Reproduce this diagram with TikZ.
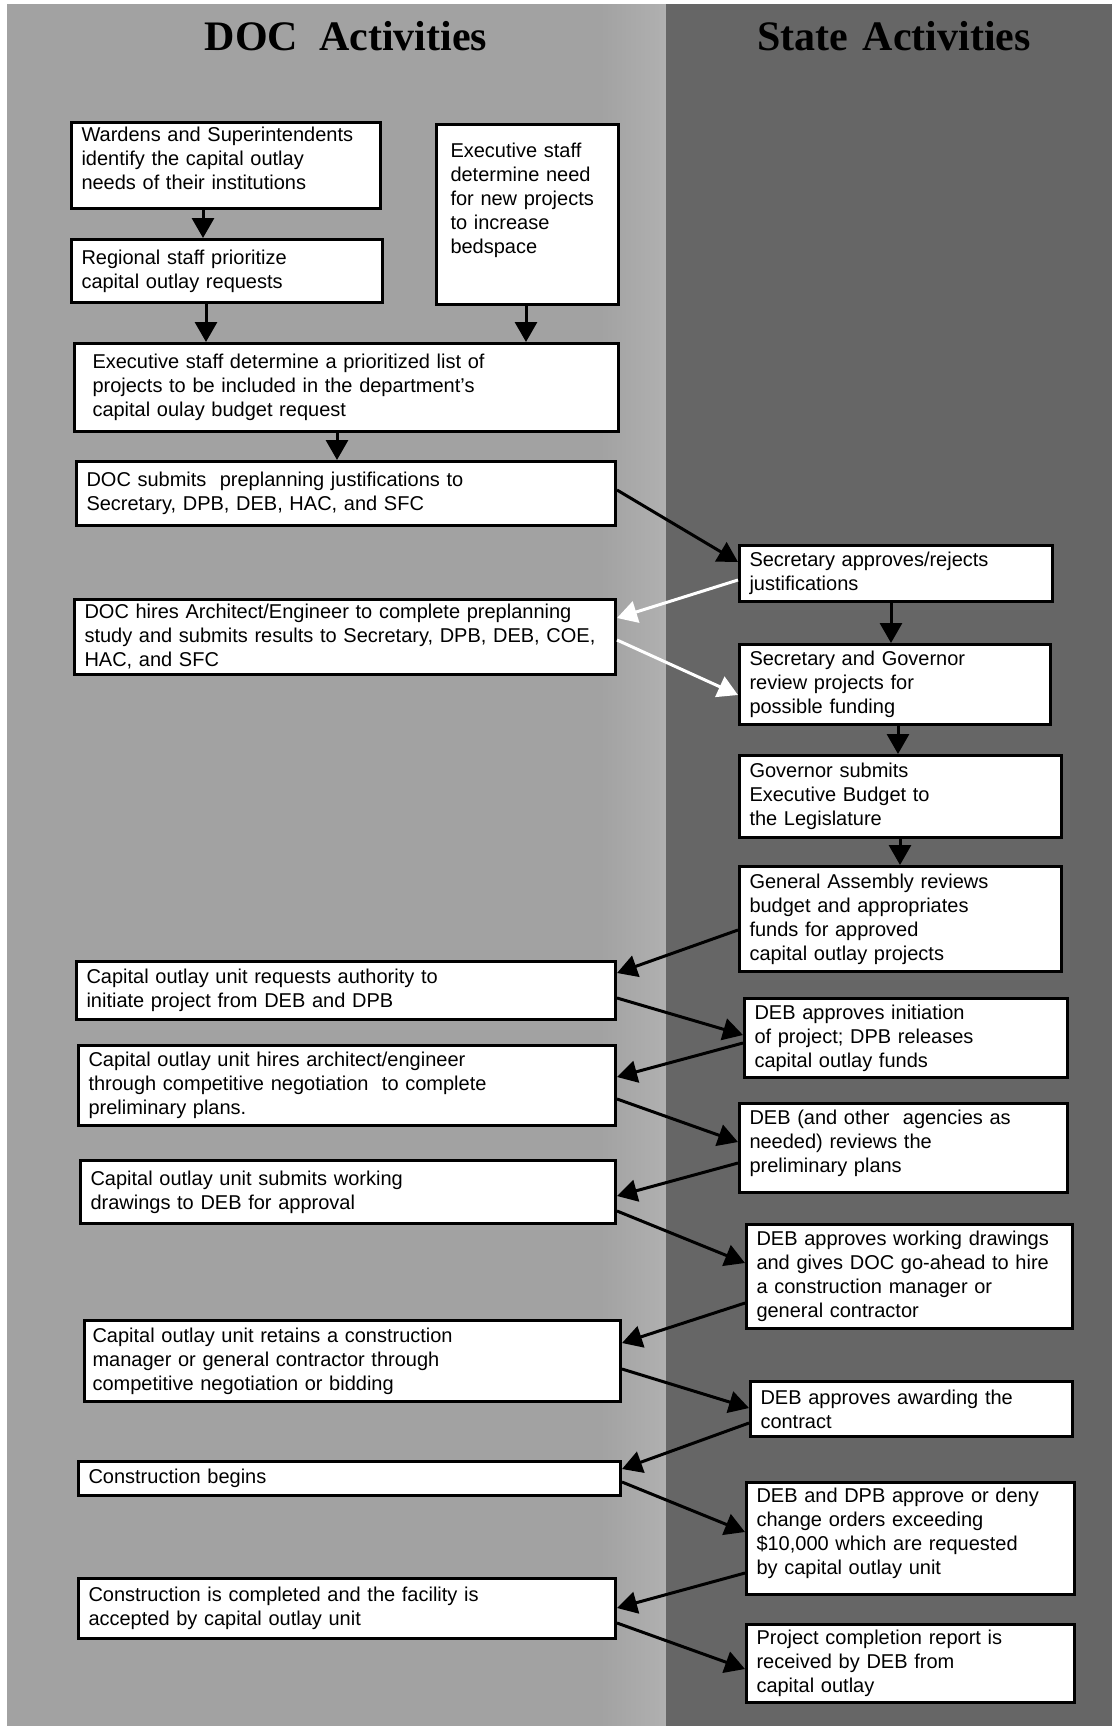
\documentclass[tikz,border=0pt]{standalone}
\usepackage{fontspec}
\setmainfont{Liberation Sans}
\newfontfamily\titlefont{Liberation Serif}
\usetikzlibrary{arrows.meta,calc}
\definecolor{leftbg}{HTML}{A2A2A2}
\definecolor{leftbgl}{HTML}{B0B0B0}
\definecolor{rightbg}{HTML}{666666}
\newcommand{\dn}{\rule[-7pt]{0pt}{7pt}}
\begin{document}
\begin{tikzpicture}[x=0.5pt,y=-0.5pt,
  box/.style={draw=black, line width=1.5pt, fill=white, align=left, anchor=north west,
              inner xsep=5pt, inner ysep=0pt, font=\fontsize{10}{12}\selectfont},
  arr/.style={line width=1.5pt, -{Triangle[length=10pt,width=11pt]}},
  warr/.style={arr, white},
  ttl/.style={anchor=base, font=\titlefont\bfseries\fontsize{21}{25}\selectfont}]
\useasboundingbox (0,0) rectangle (1112,1726);
\fill[white] (0,0) rectangle (1112,1726);
\fill[leftbg] (7,4) rectangle (600,1726);
\shade[left color=leftbg, right color=leftbgl] (600,4) rectangle (666,1726);
\fill[rightbg] (666,4) rectangle (1112,1726);

\node[ttl] (t1) at (346,50) {DOC\hspace{0.5em}Activities};
\node[ttl] (t2) at (894,50) {State\hspace{0.35em}Activities};

% DOC column
\node[box, minimum height=43pt, text width=144.5pt] (b1) at (70,121)
  {Wardens and Superintendents\\identify the capital outlay\\needs of their institutions\dn};
\node[box, minimum height=90pt, inner xsep=7pt, text width=77pt] (b2) at (435,123)
  {Executive staff\\determine need\\for new projects\\to increase\\bedspace\\[4pt]\mbox{}};
\node[box, minimum height=31.5pt, text width=145.5pt] (b3) at (70,238)
  {Regional staff prioritize\\capital outlay requests};
\node[box, minimum height=44pt, inner xsep=9pt, text width=254pt] (b4) at (73,342)
  {Executive staff determine a prioritized list of\\projects to be included in the department's\\capital oulay budget request};
\node[box, minimum height=32pt, text width=259.5pt] (b5) at (75,460)
  {DOC submits\ \ preplanning justifications to\\Secretary, DPB, DEB, HAC, and SFC};
\node[box, minimum height=37.5pt, text width=260.5pt] (b6) at (73,598)
  {DOC hires Architect/Engineer to complete preplanning\\study and submits results to Secretary, DPB, DEB, COE,\\HAC, and SFC};
\node[box, minimum height=29pt, text width=259.5pt] (l7) at (75,960)
  {Capital outlay unit requests authority to\\initiate project from DEB and DPB};
\node[box, minimum height=40pt, text width=258.5pt] (l8) at (77,1044)
  {Capital outlay unit hires architect/engineer\\through competitive negotiation\ \ to complete\\preliminary plans.};
\node[box, minimum height=31.5pt, text width=257.5pt] (l9) at (79,1159)
  {Capital outlay unit submits working\\drawings to DEB for approval};
\node[box, minimum height=40.5pt, inner xsep=4pt, text width=260pt] (l10) at (83,1319)
  {Capital outlay unit retains a construction\\manager or general contractor through\\competitive negotiation or bidding};
\node[box, minimum height=17pt, text width=261pt] (l11) at (77,1460)
  {Construction begins};
\node[box, minimum height=30pt, text width=258.5pt] (l12) at (77,1577)
  {Construction is completed and the facility is\\accepted by capital outlay unit};

% State column
\node[box, minimum height=28pt, text width=146.5pt] (r1) at (738,544)
  {Secretary approves/rejects\\justifications};
\node[box, minimum height=40pt, text width=145.5pt] (r2) at (738,643)
  {Secretary and Governor\\review projects for\\possible funding};
\node[box, minimum height=41pt, text width=151pt] (r3) at (738,754)
  {Governor submits\\Executive Budget to\\the Legislature};
\node[box, minimum height=52.5pt, text width=151pt] (r4) at (738,865)
  {General Assembly reviews\\budget and appropriates\\funds for approved\\capital outlay projects};
\node[box, minimum height=39.5pt, text width=151.5pt] (r5) at (743,997)
  {DEB approves initiation\\of project; DPB releases\\capital outlay funds};
\node[box, minimum height=44.5pt, text width=154pt] (r6) at (738,1102)
  {DEB (and other\ \ agencies as\\needed) reviews the\\preliminary plans\dn};
\node[box, minimum height=52pt, text width=153pt] (r7) at (745,1223)
  {DEB approves working drawings\\and gives DOC go-ahead to hire\\a construction manager or\\general contractor};
\node[box, minimum height=27.5pt, text width=151pt] (r8) at (749,1380)
  {DEB approves awarding the\\contract};
\node[box, minimum height=56pt, text width=154pt] (r9) at (745,1481)
  {DEB and DPB approve or deny\\change orders exceeding\\\$10,000 which are requested\\by capital outlay unit\dn};
\node[box, minimum height=39pt, text width=154pt] (r10) at (745,1623)
  {Project completion report is\\received by DEB from\\capital outlay};

% vertical arrows
\draw[arr] ($(b1.south west)+(133,0)$) -- ($(b3.north west)+(133,0)$);
\draw[arr] ($(b3.south west)+(136,0)$) -- ($(b4.north west)+(133,0)$);
\draw[arr] ($(b2.south west)+(91,0)$) -- ($(b4.north west)+(453,0)$);
\draw[arr] ($(b4.south west)+(264,0)$) -- ($(b5.north west)+(262,0)$);
\draw[arr] ($(r1.south west)+(153,0)$) -- ($(r2.north west)+(153,0)$);
\draw[arr] ($(r2.south west)+(160,0)$) -- ($(r3.north west)+(160,0)$);
\draw[arr] ($(r3.south west)+(162,0)$) -- ($(r4.north west)+(162,0)$);

% cross arrows
\draw[arr]  ($(b5.north east)+(0,30)$) -- ($(r1.north west)+(0,18)$);
\draw[warr] ($(r1.north west)+(0,36)$) -- ($(b6.north east)+(0,20)$);
\draw[warr] ($(b6.north east)+(0,42)$) -- ($(r2.north west)+(0,52)$);
\draw[arr]  ($(r4.north west)+(0,65)$) -- ($(l7.north east)+(0,13)$);
\draw[arr]  ($(l7.north east)+(0,38)$) -- ($(r5.north west)+(0,38)$);
\draw[arr]  ($(r5.north west)+(0,46)$) -- ($(l8.north east)+(0,33)$);
\draw[arr]  ($(l8.north east)+(0,55)$) -- ($(r6.north west)+(0,40)$);
\draw[arr]  ($(r6.north west)+(0,61)$) -- ($(l9.north east)+(0,37)$);
\draw[arr]  ($(l9.north east)+(0,52)$) -- ($(r7.north west)+(0,40)$);
\draw[arr]  ($(r7.north west)+(0,80)$) -- ($(l10.north east)+(0,24)$);
\draw[arr]  ($(l10.north east)+(0,50)$) -- ($(r8.north west)+(0,28)$);
\draw[arr]  ($(r8.north west)+(0,43)$) -- ($(l11.north east)+(0,9)$);
\draw[arr]  ($(l11.north east)+(0,22)$) -- ($(r9.north west)+(0,51)$);
\draw[arr]  ($(r9.north west)+(0,92)$) -- ($(l12.north east)+(0,31)$);
\draw[arr]  ($(l12.north east)+(0,46)$) -- ($(r10.north west)+(0,46)$);
\end{tikzpicture}
\end{document}
